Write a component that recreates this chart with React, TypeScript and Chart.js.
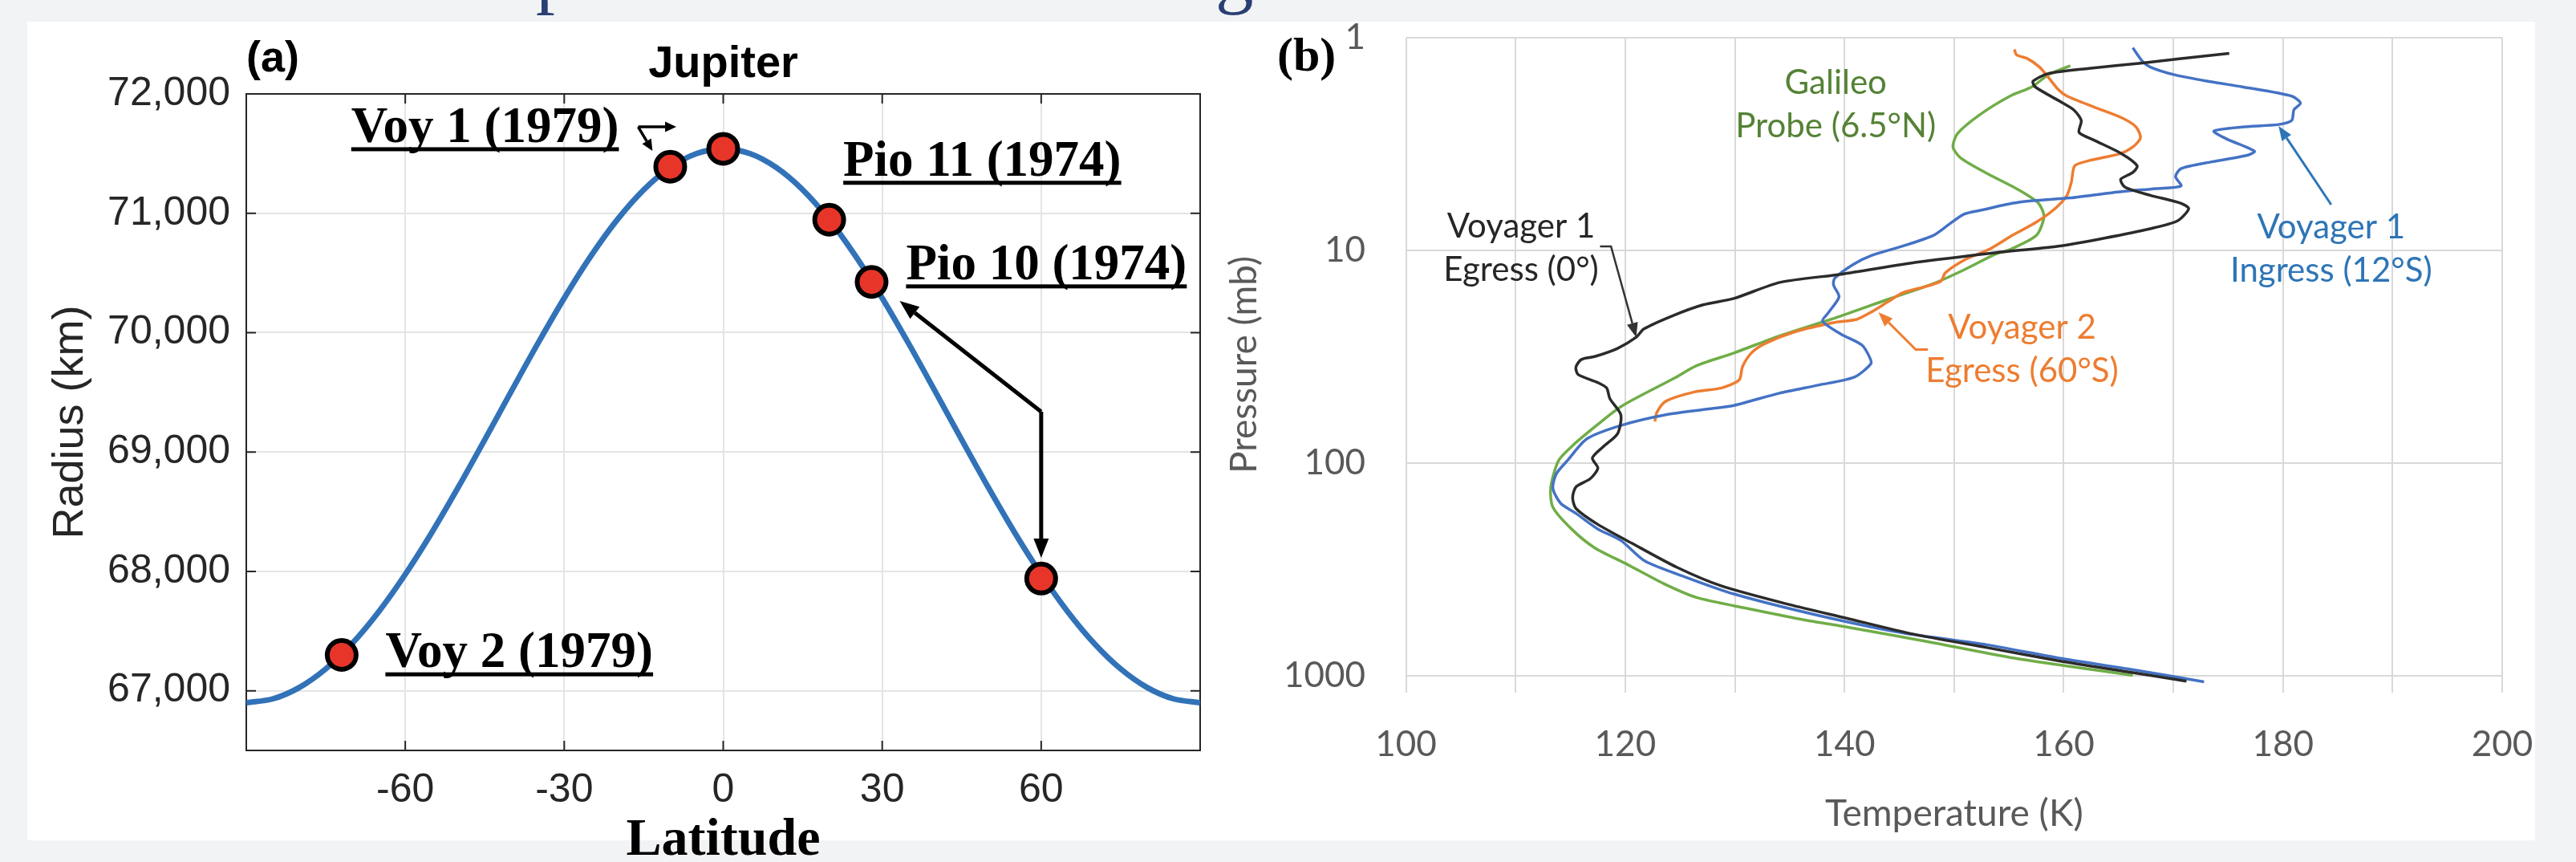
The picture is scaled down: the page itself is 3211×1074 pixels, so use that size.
import React, { useEffect, useRef } from 'react';
import { Chart, registerables } from 'chart.js';

Chart.register(...registerables);

// ---------------- Panel (a): Jupiter radius vs latitude ----------------
const LATITUDE_DEG = [-90, -85, -80, -75, -70, -65, -60, -55, -50, -45, -40, -35, -30, -25, -20, -15, -10, -5, 0,
  5, 10, 15, 20, 25, 30, 35, 40, 45, 50, 55, 60, 65, 70, 75, 80, 85, 90];
const RADIUS_KM = [66900, 66932, 67027, 67183, 67397, 67663, 67975, 68325, 68705, 69103, 69508, 69908, 70290, 70640,
  70946, 71197, 71384, 71501, 71540, 71501, 71384, 71197, 70946, 70640, 70290, 69908, 69508, 69103, 68705, 68325,
  67975, 67663, 67397, 67183, 67027, 66932, 66900];

const PROBE_NAMES = ['Voy 2', 'Voy 1', 'Voy 1', 'Pio 11', 'Pio 10', 'Pio 10'];
const PROBE_LAT = [-72, -10, 0, 20, 28, 60];
const PROBE_RADIUS = [67300, 71390, 71540, 70946, 70425, 67940];

const LAT_TICKS = [-60, -30, 0, 30, 60];
const RADIUS_TICKS = [67000, 68000, 69000, 70000, 71000, 72000];

const LABELS_A = ['Voy 1 (1979)', 'Pio 11 (1974)', 'Pio 10 (1974)', 'Voy 2 (1979)'];
const LABEL_A_LAT = [-70.2, 22.65, 34.5, -63.75];
const LABEL_A_RADIUS = [71597, 71316, 70448, 67198];

const ARROWS_A = [
  { pts: [[-16.05, 71724], [-8.85, 71724]], small: true },
  { pts: [[-16.05, 71724], [-13.35, 71523]], small: true },
  { pts: [[60, 69337], [33.3, 70265]], small: false },
  { pts: [[60, 69337], [60, 68113]], small: false },
];

// ---------------- Panel (b): temperature profiles ----------------
const V1_EGRESS_TEMP = [175.1, 170.7, 167.2, 162.3, 158.6, 157.2, 157.4, 159.5, 160.9, 161.6, 161.4, 162.8, 165.3, 166.7,
  166.3, 165.2, 165.6, 167.9, 170.7, 171.4, 170.4, 167.9, 163.7, 159.5, 153.7, 146.7, 139.7, 134.1, 129.9, 127.1, 124.3,
  121.7, 121.0, 119.3, 117.2, 116.0, 115.5, 115.7, 117.5, 118.3, 118.6, 119.6, 119.3, 118.0, 117.0, 117.5, 116.8, 115.5,
  115.2, 115.5, 117.5, 120.6, 124.7, 128.8, 135.0, 140.1, 146.3, 153.0, 159.6, 165.8, 171.2];
const V1_EGRESS_PRES = [1.19, 1.26, 1.32, 1.40, 1.48, 1.61, 1.71, 1.98, 2.19, 2.46, 2.80, 3.05, 3.53, 4.02, 4.32, 4.65,
  5.07, 5.53, 6.03, 6.39, 7.28, 7.94, 8.79, 9.59, 10.3, 11.4, 13.0, 14.2, 16.9, 18.1, 20.4, 23.5, 25.7, 29.0, 31.7, 32.7,
  35.5, 38.5, 42.0, 44.5, 50, 59.5, 73, 84, 95, 106, 119, 130, 146, 164, 195, 239, 310, 380, 465, 537, 640, 740, 855,
  961, 1064];

const V1_INGRESS_TEMP = [166.3, 167.2, 167.9, 170.1, 173.5, 176.3, 180.8, 181.6, 181.0, 180.8, 179.6, 176.3, 173.7, 174.9,
  177.4, 176.8, 173.5, 170.7, 170.2, 170.7, 168.4, 164.5, 160.6, 157.2, 155.3, 152.5, 150.9, 149.5, 148.1, 145.3, 142.5,
  140.8, 139.1, 139.0, 139.5, 138.5, 138.0, 139.7, 141.6, 142.3, 142.4, 140.9, 137.6, 134.0, 129.9, 127.3, 123.7, 119.6,
  116.5, 114.7, 113.7, 113.4, 114.1, 115.5, 117.5, 119.6, 121.8, 125.5, 129.9, 137.6, 145.3, 153.0, 159.6, 165.8, 172.8];
const V1_INGRESS_PRES = [1.12, 1.30, 1.38, 1.50, 1.62, 1.71, 1.89, 2.04, 2.19, 2.46, 2.57, 2.64, 2.76, 3.01, 3.43, 3.58,
  3.85, 4.14, 4.52, 5.0, 5.14, 5.37, 5.69, 5.86, 6.03, 6.49, 6.78, 7.6, 8.54, 9.59, 10.6, 11.7, 13.6, 14.6, 16.6, 19.8,
  21.6, 24.9, 28.0, 32.0, 34.3, 39.6, 43.2, 47.2, 53.8, 56.1, 59.5, 66.8, 77.2, 98, 113, 132, 155, 173, 205, 232, 290,
  345, 414, 522, 631, 718, 830, 931, 1072];

const V2_EGRESS_TEMP = [155.5, 155.7, 156.7, 157.8, 158.5, 159.5, 160.3, 162.8, 165.3, 166.6, 167.0, 166.3, 165.1, 162.3,
  161.0, 160.7, 160.3, 159.2, 157.5, 155.3, 153.3, 151.0, 149.2, 148.8, 147.5, 145.3, 143.9, 142.5, 141.1, 139.1, 135.5,
  132.7, 131.5, 130.7, 130.4, 128.8, 126.3, 123.7, 122.9, 122.7];
const V2_EGRESS_PRES = [1.14, 1.21, 1.26, 1.38, 1.52, 1.76, 1.89, 2.13, 2.39, 2.64, 2.97, 3.28, 3.53, 3.80, 4.02, 4.79,
  5.53, 6.39, 7.39, 8.54, 9.87, 11.1, 12.8, 14.0, 14.8, 15.9, 17.6, 19.5, 21.2, 21.9, 24.2, 27.6, 30.5, 35.3, 40.8,
  44.5, 46.5, 51.4, 57.8, 64.0];

const GALILEO_TEMP = [160.6, 158.6, 157.1, 155.1, 152.3, 150.3, 149.9, 150.6, 153.1, 155.9, 157.7, 158.2, 157.5, 155.2,
  153.7, 150.9, 148.1, 143.9, 139.7, 134.1, 129.9, 126.5, 124.5, 119.6, 116.5, 115.1, 113.9, 113.2, 113.4, 115.1, 117.2,
  120.2, 123.5, 126.5, 131.1, 136.1, 140.4, 147.4, 155.5, 166.3];
const GALILEO_PRES = [1.36, 1.50, 1.71, 1.89, 2.32, 2.84, 3.28, 3.69, 4.39, 5.22, 6.03, 6.97, 8.54, 9.9, 10.5, 12.4,
  14.4, 17.1, 20.4, 25.3, 30.5, 35.0, 40.0, 54.5, 72.8, 84, 98, 131, 162, 205, 251, 301, 370, 430, 484, 545, 595, 691,
  830, 1000];

const TEMP_GRID = [100, 110, 120, 130, 140, 150, 160, 170, 180, 190, 200];
const TEMP_LABELED = [100, 120, 140, 160, 180, 200];
const PRES_TICKS = [1, 10, 100, 1000];

const LABELS_B = [
  { lines: ['Galileo', 'Probe (6.5°N)'], t: 139.2, p: 1.84, color: '#548235' },
  { lines: ['Voyager 1', 'Egress (0°)'], t: 110.5, p: 8.74, color: '#262626' },
  { lines: ['Voyager 1', 'Ingress (12°S)'], t: 184.4, p: 8.8, color: '#2e75b6' },
  { lines: ['Voyager 2', 'Egress (60°S)'], t: 156.2, p: 26.1, color: '#ed7d31' },
];
const ARROWS_B = [
  { pts: [[117.7, 9.61], [118.7, 9.61], [121.0, 25.7]], color: '#333333', lw: 2.5 },
  { pts: [[184.4, 6.12], [179.6, 2.61]], color: '#2e75b6', lw: 3 },
  { pts: [[147.6, 29.4], [146.5, 29.4], [143.1, 19.6]], color: '#ed7d31', lw: 3 },
];

const SANS = "'Liberation Sans', Arial, Helvetica, sans-serif";
const SERIF = "'Liberation Serif', 'Times New Roman', serif";
const LATO = "Lato, 'Open Sans', sans-serif";

function drawArrow(ctx: CanvasRenderingContext2D, pts: number[][], color: string, lw: number, headLen: number, headW: number) {
  const n = pts.length;
  const [x1, y1] = pts[n - 2];
  const [x2, y2] = pts[n - 1];
  const ang = Math.atan2(y2 - y1, x2 - x1);
  const bx = x2 - headLen * Math.cos(ang);
  const by = y2 - headLen * Math.sin(ang);
  ctx.strokeStyle = color;
  ctx.fillStyle = color;
  ctx.lineWidth = lw;
  ctx.lineJoin = 'miter';
  ctx.lineCap = 'butt';
  ctx.beginPath();
  ctx.moveTo(pts[0][0], pts[0][1]);
  for (let i = 1; i < n - 1; i++) ctx.lineTo(pts[i][0], pts[i][1]);
  ctx.lineTo(bx, by);
  ctx.stroke();
  const nx = (-Math.sin(ang) * headW) / 2;
  const ny = (Math.cos(ang) * headW) / 2;
  ctx.beginPath();
  ctx.moveTo(x2, y2);
  ctx.lineTo(bx + nx, by + ny);
  ctx.lineTo(bx - nx, by - ny);
  ctx.closePath();
  ctx.fill();
}

const decorA = {
  id: 'decorA',
  beforeDatasetsDraw(chart: any) {
    const { ctx, chartArea: ca, scales } = chart;
    const xs = scales.x;
    const ys = scales.y;
    ctx.save();
    ctx.strokeStyle = '#262626';
    ctx.lineWidth = 2;
    ctx.strokeRect(ca.left, ca.top, ca.right - ca.left, ca.bottom - ca.top);
    ctx.beginPath();
    LAT_TICKS.forEach((v) => {
      const p = xs.getPixelForValue(v);
      ctx.moveTo(p, ca.bottom);
      ctx.lineTo(p, ca.bottom - 12);
      ctx.moveTo(p, ca.top);
      ctx.lineTo(p, ca.top + 12);
    });
    RADIUS_TICKS.forEach((v) => {
      const p = ys.getPixelForValue(v);
      ctx.moveTo(ca.left, p);
      ctx.lineTo(ca.left + 12, p);
      ctx.moveTo(ca.right, p);
      ctx.lineTo(ca.right - 12, p);
    });
    ctx.stroke();
    ctx.restore();
  },
  afterDatasetsDraw(chart: any) {
    const { ctx, chartArea: ca, scales } = chart;
    const xs = scales.x;
    const ys = scales.y;
    ctx.save();
    ctx.fillStyle = '#000';
    ctx.textBaseline = 'alphabetic';
    ctx.textAlign = 'left';
    ctx.font = `bold 54px ${SANS}`;
    ctx.fillText('(a)', ca.left, ca.top - 28);
    ctx.textAlign = 'center';
    ctx.font = `bold 56px ${SANS}`;
    ctx.fillText('Jupiter', xs.getPixelForValue(0), ca.top - 21);

    ctx.textAlign = 'left';
    ctx.font = `bold 63px ${SERIF}`;
    LABELS_A.forEach((s, i) => {
      const px = xs.getPixelForValue(LABEL_A_LAT[i]);
      const py = ys.getPixelForValue(LABEL_A_RADIUS[i]);
      ctx.fillStyle = '#000';
      ctx.fillText(s, px, py);
      const w = ctx.measureText(s).width;
      ctx.fillRect(px, py + 6.5, w, 5);
    });

    ARROWS_A.forEach((a) => {
      const pts = a.pts.map(([lat, r]) => [xs.getPixelForValue(lat), ys.getPixelForValue(r)]);
      if (a.small) drawArrow(ctx, pts, '#000', 3.5, 14, 13);
      else drawArrow(ctx, pts, '#000', 5, 24, 19);
    });
    ctx.restore();
  },
};

const decorB = {
  id: 'decorB',
  afterDatasetsDraw(chart: any) {
    const { ctx, chartArea: ca, scales } = chart;
    const xs = scales.x;
    const ys = scales.y;
    ctx.save();
    ctx.fillStyle = '#000';
    ctx.textBaseline = 'alphabetic';
    ctx.textAlign = 'left';
    ctx.font = `bold 60px ${SERIF}`;
    ctx.fillText('(b)', ca.left - 160.6, ca.top + 41.5);

    ctx.textAlign = 'center';
    ctx.font = `42px ${LATO}`;
    LABELS_B.forEach((l) => {
      ctx.fillStyle = l.color;
      const px = xs.getPixelForValue(l.t);
      const py = ys.getPixelForValue(l.p);
      l.lines.forEach((s, i) => ctx.fillText(s, px, py + i * 54));
    });

    ARROWS_B.forEach((a) => {
      const pts = a.pts.map(([t, p]) => [xs.getPixelForValue(t), ys.getPixelForValue(p)]);
      drawArrow(ctx, pts, a.color, a.lw, 18, 14);
    });
    ctx.restore();
  },
};

function xy(xsArr: number[], ysArr: number[]) {
  return xsArr.map((x, i) => ({ x, y: ysArr[i] }));
}

function noPad(s: any) {
  s.paddingTop = 0;
  s.paddingBottom = 0;
  s.paddingLeft = 0;
  s.paddingRight = 0;
}

function makeConfigA(): any {
  return {
    type: 'scatter',
    data: {
      datasets: [
        {
          label: 'Spacecraft occultations',
          data: xy(PROBE_LAT, PROBE_RADIUS),
          showLine: false,
          pointRadius: 18,
          pointBorderWidth: 6,
          pointBackgroundColor: '#e8352a',
          pointBorderColor: '#000000',
        },
        {
          label: 'Jupiter radius',
          data: xy(LATITUDE_DEG, RADIUS_KM),
          showLine: true,
          pointRadius: 0,
          borderColor: '#3172b8',
          borderWidth: 7,
          cubicInterpolationMode: 'monotone',
          fill: false,
        },
      ],
    },
    options: {
      animation: false,
      responsive: false,
      devicePixelRatio: 1,
      layout: { padding: { top: 117, right: 13, bottom: 0, left: 0 } },
      plugins: { legend: { display: false }, tooltip: { enabled: false } },
      scales: {
        x: {
          type: 'linear',
          min: -90,
          max: 90,
          afterBuildTicks: (s: any) => {
            s.ticks = LAT_TICKS.map((v) => ({ value: v }));
          },
          afterFit: (s: any) => {
            s.height = 139;
            noPad(s);
          },
          grid: { color: '#e4e4e4', lineWidth: 2, drawTicks: false },
          border: { display: false },
          ticks: {
            autoSkip: false,
            maxRotation: 0,
            padding: 20,
            color: '#262626',
            font: { family: SANS, size: 50 },
          },
          title: {
            display: true,
            text: 'Latitude',
            color: '#000',
            font: { family: SERIF, size: 66, weight: 'bold', lineHeight: 0.8 },
            padding: { top: 0, bottom: 0 },
          },
        },
        y: {
          type: 'linear',
          min: 66500,
          max: 72000,
          afterBuildTicks: (s: any) => {
            s.ticks = RADIUS_TICKS.map((v) => ({ value: v }));
          },
          afterFit: (s: any) => {
            s.width = 307;
            noPad(s);
          },
          grid: { color: '#e4e4e4', lineWidth: 2, drawTicks: false },
          border: { display: false },
          ticks: {
            padding: 20,
            color: '#262626',
            font: { family: SANS, size: 50 },
            callback: (v: any) => Number(v).toLocaleString('en-US'),
          },
          title: {
            display: true,
            text: 'Radius (km)',
            color: '#262626',
            font: { family: SANS, size: 54 },
            padding: { top: 55.6, bottom: 0 },
          },
        },
      },
    },
    plugins: [decorA],
  };
}

function makeConfigB(): any {
  const line = (label: string, data: any[], color: string) => ({
    label,
    data,
    showLine: true,
    pointRadius: 0,
    borderColor: color,
    borderWidth: 3.5,
    tension: 0.25,
    fill: false,
  });
  return {
    type: 'scatter',
    data: {
      datasets: [
        line('Voyager 1 Egress (0°)', xy(V1_EGRESS_TEMP, V1_EGRESS_PRES), '#2b2b2b'),
        line('Voyager 1 Ingress (12°S)', xy(V1_INGRESS_TEMP, V1_INGRESS_PRES), '#4472c4'),
        line('Voyager 2 Egress (60°S)', xy(V2_EGRESS_TEMP, V2_EGRESS_PRES), '#ed7d31'),
        line('Galileo Probe (6.5°N)', xy(GALILEO_TEMP, GALILEO_PRES), '#70ad47'),
      ],
    },
    options: {
      animation: false,
      responsive: false,
      devicePixelRatio: 1,
      layout: { padding: { top: 46.5, right: 92, bottom: 0, left: 0 } },
      plugins: { legend: { display: false }, tooltip: { enabled: false } },
      scales: {
        x: {
          type: 'linear',
          min: 100,
          max: 200,
          afterBuildTicks: (s: any) => {
            s.ticks = TEMP_GRID.map((v) => ({ value: v }));
          },
          afterFit: (s: any) => {
            s.height = 211.5;
            noPad(s);
          },
          grid: { color: '#d9d9d9', lineWidth: 2, drawTicks: false },
          border: { display: false },
          ticks: {
            autoSkip: false,
            maxRotation: 0,
            padding: 39,
            color: '#595959',
            font: { family: LATO, size: 44 },
            callback: (v: any) => (TEMP_LABELED.includes(Number(v)) ? String(v) : ''),
          },
          title: {
            display: true,
            text: 'Temperature (K)',
            color: '#595959',
            font: { family: LATO, size: 46 },
            padding: { top: 0, bottom: 31.8 },
          },
        },
        y: {
          type: 'logarithmic',
          reverse: true,
          min: 1,
          max: 1200,
          afterBuildTicks: (s: any) => {
            s.ticks = PRES_TICKS.map((v) => ({ value: v }));
          },
          afterFit: (s: any) => {
            s.width = 232.6;
            noPad(s);
          },
          grid: { color: '#d9d9d9', lineWidth: 2, drawTicks: false },
          border: { display: false },
          ticks: {
            padding: 50.6,
            color: '#595959',
            font: { family: LATO, size: 44 },
            callback: (v: any) => String(v),
          },
          title: {
            display: true,
            text: 'Pressure (mb)',
            color: '#595959',
            font: { family: LATO, size: 46 },
            padding: { top: 4, bottom: 0 },
          },
        },
      },
    },
    plugins: [decorB],
  };
}

export default function App() {
  const refA = useRef<HTMLCanvasElement>(null);
  const refB = useRef<HTMLCanvasElement>(null);

  useEffect(() => {
    const a = new Chart(refA.current as HTMLCanvasElement, makeConfigA());
    const b = new Chart(refB.current as HTMLCanvasElement, makeConfigB());
    return () => {
      a.destroy();
      b.destroy();
    };
  }, []);

  const heading: React.CSSProperties = {
    position: 'absolute',
    top: -80,
    fontFamily: SERIF,
    fontSize: 95,
    lineHeight: '95px',
    color: '#2a3f73',
    whiteSpace: 'pre',
  };

  return (
    <div
      style={{
        position: 'fixed',
        left: 0,
        top: 0,
        width: 3211,
        height: 1074,
        background: '#f2f3f5',
        overflow: 'hidden',
      }}
    >
      <span style={{ ...heading, left: 668 }}>p</span>
      <span style={{ ...heading, left: 1515 }}>g</span>
      <div style={{ position: 'absolute', left: 34, top: 27, width: 3126, height: 1020, background: '#ffffff' }} />
      <div style={{ position: 'absolute', left: 0, top: 0, width: 1520, height: 1074 }}>
        <canvas ref={refA} width={1520} height={1074} style={{ width: 1520, height: 1074, display: 'block' }} />
      </div>
      <div style={{ position: 'absolute', left: 1520, top: 0, width: 1691, height: 1074 }}>
        <canvas ref={refB} width={1691} height={1074} style={{ width: 1691, height: 1074, display: 'block' }} />
      </div>
    </div>
  );
}
